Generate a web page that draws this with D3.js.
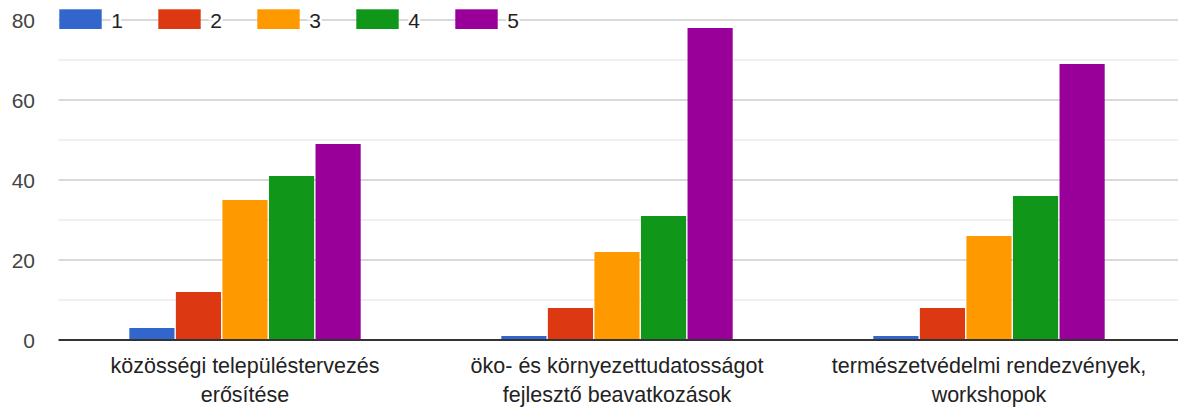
<!DOCTYPE html>
<html lang="hu">
<head>
<meta charset="utf-8">
<title>Bar chart</title>
<script src="https://d3js.org/d3.v7.min.js"></script>
<style>
  body { margin: 0; background: #fff; }
  svg text { font-family: "Liberation Sans", Arial, sans-serif; }
</style>
</head>
<body>
<div id="chart"></div>
<script>
// data
const categories = [
  ["közösségi településtervezés", "erősítése"],
  ["öko- és környezettudatosságot", "fejlesztő beavatkozások"],
  ["természetvédelmi rendezvények,", "workshopok"]
];
const seriesNames = ["1", "2", "3", "4", "5"];
const s1 = [3, 1, 1];
const s2 = [12, 8, 8];
const s3 = [35, 22, 26];
const s4 = [41, 31, 36];
const s5 = [49, 78, 69];
const yTicks = [0, 20, 40, 60, 80];
const yMinor = [10, 30, 50, 70];

const colors = ["#3366cc", "#dc3912", "#ff9900", "#109618", "#990099"];
const allSeries = [s1, s2, s3, s4, s5];

const W = 1178, H = 407;
const left = 58.5;
const svg = d3.select("#chart").append("svg")
  .attr("width", W).attr("height", H);

const x0 = d3.scaleBand().domain(d3.range(categories.length)).range([59, 1175]);
const groupW = x0.bandwidth() * 0.622;
const x1 = d3.scaleBand().domain(seriesNames).range([0, groupW]).paddingInner(0.03);
const y = d3.scaleLinear().domain([0, 80]).range([340, 20]);

// gridlines
svg.append("g").selectAll("line").data(yMinor).join("line")
  .attr("x1", left).attr("x2", W)
  .attr("y1", d => y(d)).attr("y2", d => y(d))
  .attr("stroke", "#ebebeb").attr("stroke-width", 1.3);
svg.append("g").selectAll("line").data(yTicks.filter(d => d > 0)).join("line")
  .attr("x1", left).attr("x2", W)
  .attr("y1", d => y(d)).attr("y2", d => y(d))
  .attr("stroke", "#cccccc").attr("stroke-width", 1.3);

// y labels
svg.append("g").selectAll("text").data(yTicks).join("text")
  .attr("x", 35).attr("y", d => y(d)).attr("dy", "0.36em")
  .attr("text-anchor", "end").attr("font-size", 21).attr("fill", "#444")
  .text(d => d);

// bars
const groups = svg.append("g").selectAll("g").data(categories.map((c, i) => i)).join("g")
  .attr("transform", i => `translate(${x0(i) + (x0.bandwidth() - groupW) / 2},0)`);
groups.selectAll("rect")
  .data(i => allSeries.map((s, k) => ({ k, v: s[i] })))
  .join("rect")
  .attr("x", d => x1(seriesNames[d.k]))
  .attr("width", x1.bandwidth())
  .attr("y", d => y(d.v))
  .attr("height", d => y(0) - y(d.v))
  .attr("fill", d => colors[d.k]);

// zero axis
svg.append("line")
  .attr("x1", left).attr("x2", W).attr("y1", y(0)).attr("y2", y(0))
  .attr("stroke", "#333").attr("stroke-width", 2);

// category labels
const lab = svg.append("g").selectAll("text").data(categories).join("text")
  .attr("text-anchor", "middle").attr("font-size", 21.5).attr("fill", "#222")
  .attr("transform", (d, i) => `translate(${x0(i) + x0.bandwidth() / 2},0)`);
lab.selectAll("tspan").data(d => d).join("tspan")
  .attr("x", 0).attr("y", (d, j) => 373 + j * 28.5)
  .text(d => d);

// legend
const leg = svg.append("g").selectAll("g").data(seriesNames).join("g")
  .attr("transform", (d, i) => `translate(${59.3 + i * 99},0)`);
leg.append("rect")
  .attr("x", 0).attr("y", 9.3).attr("width", 42.4).attr("height", 19.7)
  .attr("fill", (d, i) => colors[i]);
leg.append("text")
  .attr("x", 52).attr("y", 20).attr("dy", "0.36em")
  .attr("font-size", 21).attr("fill", "#222")
  .attr("stroke", "#fff").attr("stroke-width", 5).attr("paint-order", "stroke")
  .text(d => d);
</script>
</body>
</html>
